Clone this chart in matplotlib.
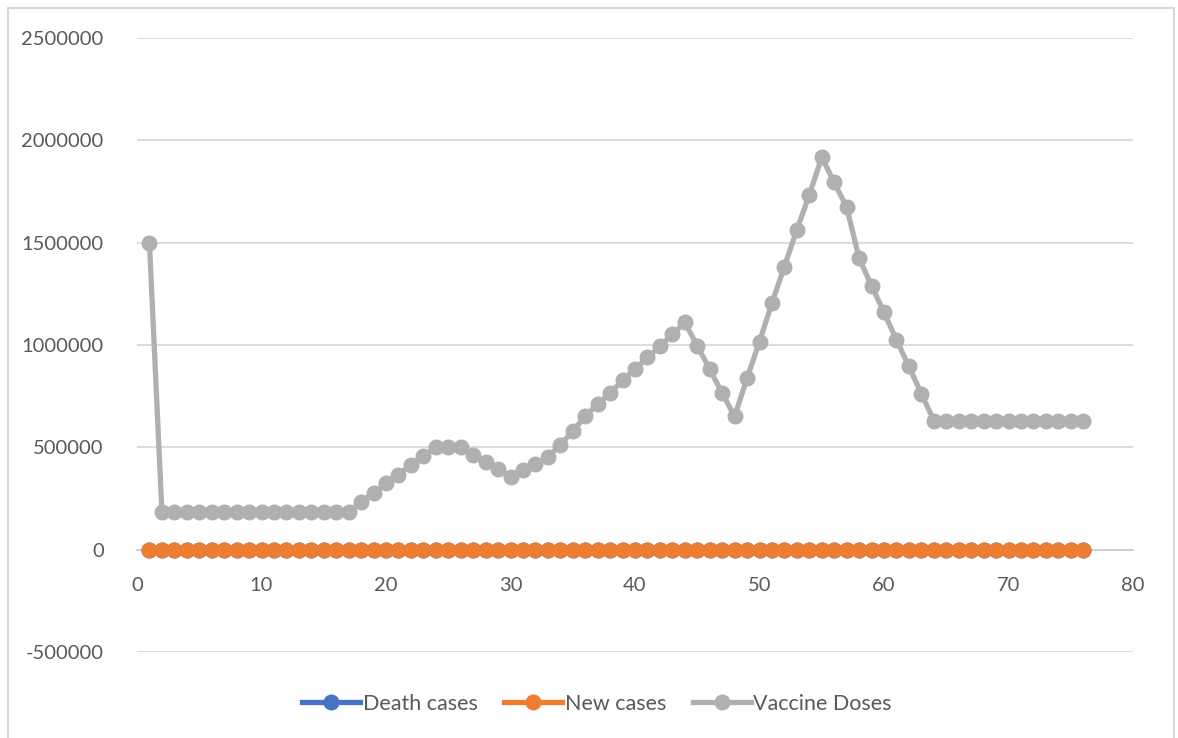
import matplotlib
matplotlib.use("Agg")
import matplotlib.pyplot as plt
from matplotlib.patches import Rectangle

days = list(range(1, 77))
death_cases = [0] * 76
new_cases = [0] * 76
vaccine_doses = [
    1500000,
    185000, 185000, 185000, 185000, 185000, 185000, 185000, 185000,
    185000, 185000, 185000, 185000, 185000, 185000, 185000, 185000,
    234000, 277000, 326000, 366000, 415000, 459000, 500000, 500000,
    500000, 464000, 426000, 394000, 355000, 387000, 418000, 452000,
    513000, 578000, 651000, 713000, 765000, 827000, 882000, 939000,
    993000, 1053000, 1110000, 996000, 882000, 765000, 651000, 838000,
    1017000, 1205000, 1383000, 1563000, 1733000, 1918000, 1794000, 1673000,
    1424000, 1289000, 1159000, 1025000, 895000, 762000, 631000,
    631000, 631000, 631000, 631000, 631000, 631000, 631000, 631000,
    631000, 631000, 631000, 631000,
]
series_names = ["Death cases", "New cases", "Vaccine Doses"]
series_colors = ["#4472C4", "#ED7D31", "#B0B0B0"]
y_ticks = [-500000, 0, 500000, 1000000, 1500000, 2000000, 2500000]
x_ticks = [0, 10, 20, 30, 40, 50, 60, 70, 80]

plt.rcParams['font.family'] = ['Lato', 'DejaVu Sans']
fig = plt.figure(figsize=(11.78, 7.38), dpi=100)
W, H = 1178, 738
ax = fig.add_axes([137 / W, 1 - 652 / H, (1133 - 137) / W, (652 - 38) / H])

for vals, name, col in zip([death_cases, new_cases, vaccine_doses], series_names, series_colors):
    ax.plot(days, vals, color=col, lw=3.8, marker='o', ms=10.5, label=name, zorder=3)

ax.set_xlim(0, 80)
ax.set_ylim(-500000, 2500000)
ax.set_xticks(x_ticks)
ax.set_yticks(y_ticks)
ax.set_yticklabels([str(v) for v in y_ticks])
ax.set_xticklabels([str(v) for v in x_ticks])
ax.grid(axis='y', color='#D9D9D9', lw=1.3, zorder=0)
ax.set_axisbelow(True)
for s in ['top', 'right', 'left']:
    ax.spines[s].set_visible(False)
ax.spines['bottom'].set_position(('data', 0))
ax.spines['bottom'].set_color('#D0D0D0')
ax.spines['bottom'].set_linewidth(1.3)
ax.tick_params(axis='both', length=0, labelsize=14.5, labelcolor='#595959')
ax.tick_params(axis='y', pad=24)
ax.tick_params(axis='x', pad=20)

leg = fig.legend(loc='center', bbox_to_anchor=(597 / W, 1 - 704 / H), ncol=3, frameon=False,
                 fontsize=15.5, handlelength=2.7, handletextpad=0.1, columnspacing=1.25,
                 labelcolor='#595959')

fig.add_artist(Rectangle((8 / W, -0.01), (1174 - 8) / W, 1 - 8 / H + 0.01,
                         transform=fig.transFigure, fill=False, edgecolor='#D9D9D9', lw=1.5))

fig.savefig('out.png', dpi=100)
